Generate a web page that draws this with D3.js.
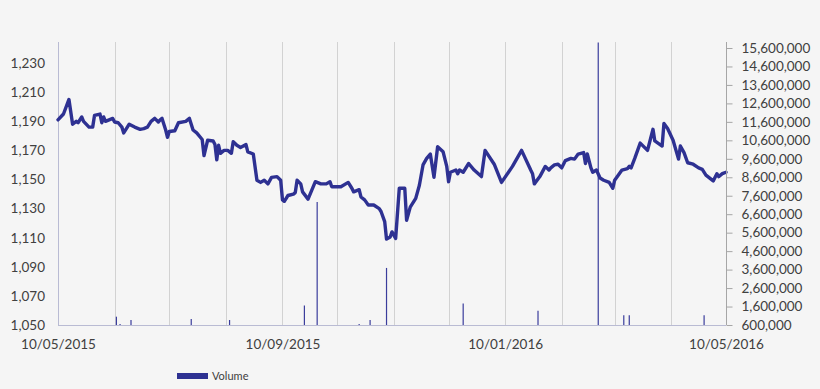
<!DOCTYPE html>
<html>
<head>
<meta charset="utf-8">
<script src="https://cdn.jsdelivr.net/npm/d3@7"></script>
<style>
  html, body { margin: 0; padding: 0; background: #f5f5f5; }
  svg { display: block; font-family: Lato, "Open Sans", sans-serif; }
</style>
</head>
<body>
<script>
// price line
const priceDates = ["2015-05-10","2015-05-13","2015-05-16","2015-05-18","2015-05-20","2015-05-21","2015-05-23","2015-05-24","2015-05-27","2015-05-29","2015-05-30","2015-06-02","2015-06-03","2015-06-04","2015-06-05","2015-06-07","2015-06-09","2015-06-10","2015-06-12","2015-06-14","2015-06-15","2015-06-17","2015-06-18","2015-06-21","2015-06-24","2015-06-26","2015-06-28","2015-06-30","2015-07-02","2015-07-04","2015-07-05","2015-07-06","2015-07-08","2015-07-09","2015-07-10","2015-07-13","2015-07-15","2015-07-19","2015-07-21","2015-07-23","2015-07-25","2015-07-28","2015-07-29","2015-07-31","2015-08-03","2015-08-04","2015-08-05","2015-08-06","2015-08-07","2015-08-09","2015-08-11","2015-08-13","2015-08-14","2015-08-16","2015-08-18","2015-08-21","2015-08-22","2015-08-25","2015-08-27","2015-08-29","2015-08-31","2015-09-02","2015-09-04","2015-09-07","2015-09-09","2015-09-10","2015-09-11","2015-09-13","2015-09-16","2015-09-17","2015-09-18","2015-09-20","2015-09-21","2015-09-24","2015-09-26","2015-09-28","2015-10-01","2015-10-04","2015-10-06","2015-10-07","2015-10-12","2015-10-16","2015-10-18","2015-10-19","2015-10-22","2015-10-23","2015-10-25","2015-10-27","2015-10-30","2015-11-02","2015-11-03","2015-11-05","2015-11-06","2015-11-08","2015-11-09","2015-11-11","2015-11-13","2015-11-16","2015-11-17","2015-11-19","2015-11-22","2015-11-24","2015-11-26","2015-11-28","2015-11-30","2015-12-02","2015-12-04","2015-12-07","2015-12-09","2015-12-10","2015-12-11","2015-12-14","2015-12-15","2015-12-16","2015-12-18","2015-12-21","2015-12-24","2015-12-28","2015-12-30","2016-01-04","2016-01-08","2016-01-14","2016-01-19","2016-01-24","2016-01-25","2016-01-26","2016-01-29","2016-02-01","2016-02-03","2016-02-04","2016-02-06","2016-02-08","2016-02-10","2016-02-12","2016-02-15","2016-02-17","2016-02-19","2016-02-22","2016-02-23","2016-02-24","2016-02-26","2016-02-27","2016-02-29","2016-03-02","2016-03-04","2016-03-07","2016-03-09","2016-03-10","2016-03-14","2016-03-17","2016-03-18","2016-03-19","2016-03-21","2016-03-24","2016-03-28","2016-03-31","2016-04-01","2016-04-05","2016-04-06","2016-04-08","2016-04-11","2016-04-14","2016-04-15","2016-04-17","2016-04-19","2016-04-22","2016-04-25","2016-04-27","2016-04-29","2016-05-03","2016-05-05","2016-05-06","2016-05-08","2016-05-10"];
const priceValues = [1191,1195,1205,1188,1190,1189,1193,1190,1186,1186,1194,1195,1189,1193,1190,1191,1192,1189.5,1189,1186,1182,1186,1188,1186,1184.5,1185,1186,1190,1192,1189.5,1191,1192,1184,1179,1183,1183.5,1189,1190,1192,1184,1182,1177.5,1166.5,1177,1176.5,1174,1163.5,1173.5,1168,1170,1170,1168,1176,1173.5,1172,1174,1169,1167.5,1149.5,1148,1149.5,1147,1151.5,1152,1149.5,1136,1135,1139,1140,1141,1149.5,1147,1141.5,1136.5,1142.5,1148.5,1147,1147,1148.5,1145,1145,1148,1144,1141.5,1143,1138,1136,1132.5,1132.5,1130,1128,1121,1109,1110.5,1114,1109.5,1144,1144,1122,1131,1137,1146,1160,1164.5,1167.5,1151.5,1172.5,1169,1159,1148.5,1155,1156.5,1154,1156.5,1155,1161,1156.5,1152,1170,1160.5,1148,1159,1170,1156.5,1154,1147,1152,1159,1156.5,1158,1160,1160.5,1158,1163,1164.5,1164,1167.5,1168.5,1161,1167.5,1158,1155,1156.5,1151,1149.5,1148,1144,1149.5,1156.5,1157.5,1159,1158,1164.5,1175,1170,1184.5,1176.5,1173,1188.5,1185,1177,1164,1173,1168.5,1161.5,1160.5,1158,1157,1153,1149,1154,1152,1154,1155];

// volume bars (only the visible ones, the rest sit at the axis floor)
const volumeDates = ["2015-06-11","2015-06-13","2015-06-19","2015-07-22","2015-08-12","2015-09-22","2015-09-29","2015-10-22","2015-10-28","2015-11-06","2015-12-18","2016-01-28","2016-03-01","2016-03-15","2016-03-18","2016-04-28"];
const volumeValues = [1050000,650000,870000,920000,870000,1650000,7260000,650000,870000,3690000,1770000,1370000,15900000,1130000,1130000,1130000];

const priceTicks = [1050,1070,1090,1110,1130,1150,1170,1190,1210,1230];
const volumeTicks = [600000,1600000,2600000,3600000,4600000,5600000,6600000,7600000,8600000,9600000,10600000,11600000,12600000,13600000,14600000,15600000];
const xLabelDates = ["2015-05-10","2015-09-10","2016-01-10","2016-05-10"];

const width = 820, height = 389;
const plot = { left: 58, right: 726, top: 42, bottom: 325 };
const lineColor = "#2e3192";
const parse = d3.utcParse("%Y-%m-%d");

const svg = d3.select("body").append("svg")
  .attr("width", width)
  .attr("height", height);

svg.append("rect").attr("width", width).attr("height", height).attr("fill", "#f5f5f5");

const x = d3.scaleUtc()
  .domain([parse("2015-05-10"), parse("2016-05-10")])
  .range([plot.left, plot.right]);

const yPrice = d3.scaleLinear().domain([1050, 1244.5]).range([plot.bottom, plot.top]);
const yVol = d3.scaleLinear().domain([600000, 15925000]).range([plot.bottom, plot.top]);

// monthly gridlines on the 10th
const gridDates = d3.utcMonth.range(parse("2015-05-01"), parse("2016-05-02")).map(d => d3.utcDay.offset(d, 9));
svg.append("g")
  .selectAll("line")
  .data(gridDates.slice(1, -1))
  .join("line")
  .attr("x1", d => Math.round(x(d)) + 0.5)
  .attr("x2", d => Math.round(x(d)) + 0.5)
  .attr("y1", plot.top)
  .attr("y2", plot.bottom)
  .attr("stroke", "#d2d2d2")
  .attr("stroke-width", 1);

// left + bottom axis lines
svg.append("line")
  .attr("x1", plot.left + 0.5).attr("x2", plot.left + 0.5)
  .attr("y1", plot.top).attr("y2", plot.bottom)
  .attr("stroke", "#b9bbd3");
svg.append("line")
  .attr("x1", plot.left).attr("x2", plot.right)
  .attr("y1", plot.bottom + 0.5).attr("y2", plot.bottom + 0.5)
  .attr("stroke", "#b9bbd3");

// volume bars
svg.append("g")
  .selectAll("line")
  .data(volumeDates.map((d, i) => ({ date: parse(d), value: volumeValues[i] })))
  .join("line")
  .attr("x1", d => x(d.date))
  .attr("x2", d => x(d.date))
  .attr("y1", plot.bottom)
  .attr("y2", d => yVol(d.value))
  .attr("stroke", "#3a3d9c")
  .attr("stroke-width", 1.2);

// price line
const priceData = priceDates.map((d, i) => ({ date: parse(d), value: priceValues[i] }));
svg.append("path")
  .datum(priceData)
  .attr("fill", "none")
  .attr("stroke", lineColor)
  .attr("stroke-width", 3.4)
  .attr("stroke-linejoin", "round")
  .attr("stroke-linecap", "round")
  .attr("d", d3.line().x(d => x(d.date)).y(d => yPrice(d.value)));

// left axis
const leftAxis = svg.append("g")
  .attr("transform", `translate(${plot.left - 13},0)`)
  .call(d3.axisLeft(yPrice).tickValues(priceTicks).tickSize(0).tickPadding(0).tickFormat(d3.format(",")));
leftAxis.select(".domain").remove();

// right axis
const rightAxis = svg.append("g")
  .attr("transform", `translate(${plot.right + 0.5},0)`)
  .call(d3.axisRight(yVol).tickValues(volumeTicks).tickSize(6).tickPadding(9).tickFormat(d3.format(",")));
rightAxis.select(".domain").attr("stroke", "#a6a6a6").attr("d", `M0,${plot.top}V${plot.bottom}`);
rightAxis.selectAll(".tick line").attr("stroke", "#a6a6a6");

// bottom axis labels
const bottomAxis = svg.append("g")
  .attr("transform", `translate(0,${plot.bottom})`)
  .call(d3.axisBottom(x).tickValues(xLabelDates.map(parse)).tickSize(0).tickPadding(14).tickFormat(d3.utcFormat("%d/%m/%Y")));
bottomAxis.select(".domain").remove();

svg.selectAll(".tick text")
  .attr("fill", "#404040")
  .style("font-size", "13.5px")
  .style("font-family", "Lato, 'Open Sans', sans-serif");

// legend
svg.append("rect")
  .attr("x", 177).attr("y", 373)
  .attr("width", 31).attr("height", 6)
  .attr("fill", lineColor);
svg.append("text")
  .attr("x", 212).attr("y", 380)
  .attr("fill", "#404040")
  .style("font-size", "11px")
  .text("Volume");
</script>
</body>
</html>
